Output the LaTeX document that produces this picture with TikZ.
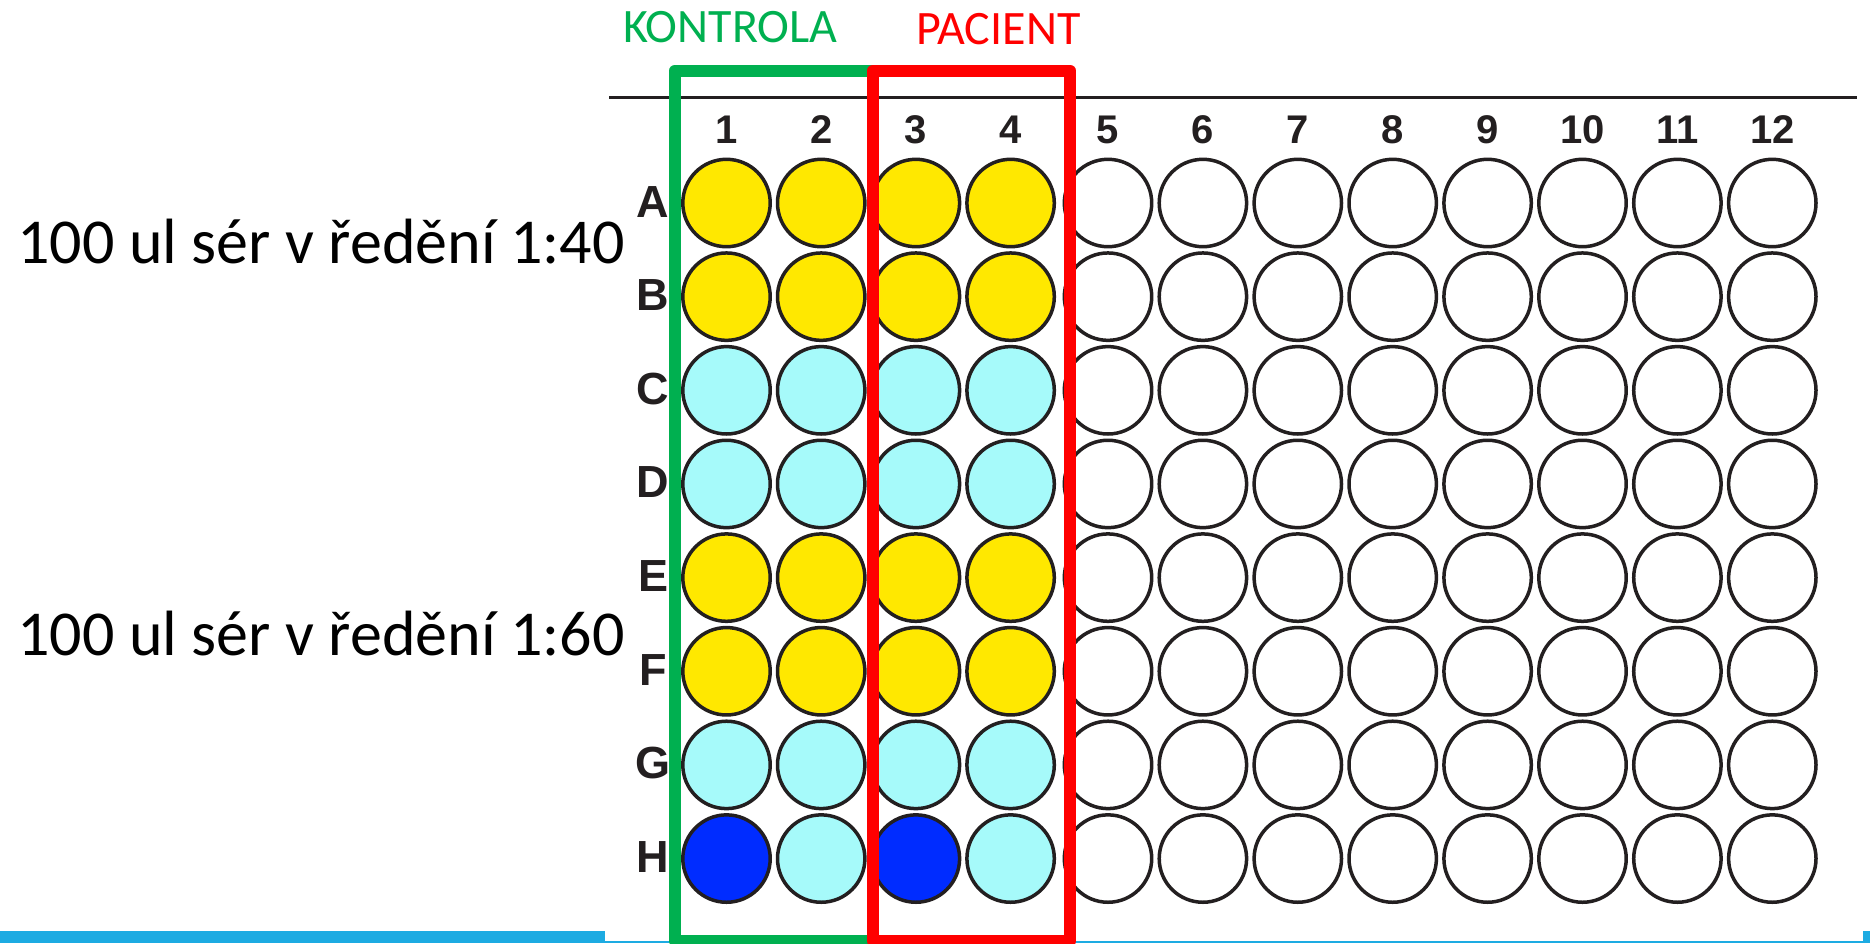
\documentclass[tikz,border=0pt]{standalone}
\usepackage{fontspec}
\setmainfont{Carlito}
\newfontfamily\platefont{Liberation Sans}
\definecolor{wy}{RGB}{255,232,0}
\definecolor{wc}{RGB}{166,250,250}
\definecolor{wb}{RGB}{0,44,255}
\definecolor{ink}{RGB}{35,31,32}
\definecolor{kgreen}{RGB}{0,176,80}
\definecolor{pred}{RGB}{255,0,0}
\definecolor{barblue}{RGB}{29,171,226}
\tikzset{
  well/.style={circle, draw=ink, line width=3.5pt, minimum size=87.4pt, inner sep=0pt},
  colnum/.style={font=\platefont\bfseries\fontsize{40}{40}\selectfont, text=ink, anchor=base, inner sep=0pt},
  rowlab/.style={font=\platefont\bfseries\fontsize{45}{45}\selectfont, text=ink, anchor=base, inner sep=0pt},
  dosetext/.style={font=\fontsize{64}{64}\selectfont, anchor=base west, inner sep=0pt},
  grouptext/.style={font=\fontsize{48}{48}\selectfont, anchor=base west, inner sep=0pt},
  groupbox/.style={line width=12pt, line join=round},
}
\begin{document}
\begin{tikzpicture}[x=1pt,y=-1pt]
\useasboundingbox (0,0) rectangle (1870,943);
\clip (0,0) rectangle (1870,943);
\fill[white] (0,0) rectangle (1870,943);
% bottom blue bar
\fill[barblue] (0,931) rectangle (605,943);
\fill[barblue] (0,941.3) rectangle (1870,943);
\fill[barblue] (1863,931) rectangle (1870,943);
% plate top line
\coordinate (lineL) at (609,97.7);
\coordinate (lineR) at (1857,97.7);
\draw[ink, line width=3.4pt] (lineL) -- (lineR);
% wells columns 5-12 (empty)
\foreach \r in {1,...,8}{
  \foreach \c in {5,...,12}{
    \pgfmathsetmacro\xx{1108+94.9*(\c-5)}
    \pgfmathsetmacro\yy{203+93.65*(\r-1)}
    \node[well, fill=white] (w\r-\c) at (\xx,\yy) {};
  }
}
% wells columns 1-4 (filled)
\foreach \r/\cA/\cB/\cC/\cD in {1/wy/wy/wy/wy,2/wy/wy/wy/wy,3/wc/wc/wc/wc,4/wc/wc/wc/wc,5/wy/wy/wy/wy,6/wy/wy/wy/wy,7/wc/wc/wc/wc,8/wb/wc/wb/wc}{
  \foreach \c/\col in {1/\cA,2/\cB,3/\cC,4/\cD}{
    \pgfmathsetmacro\xx{726.5+94.7*(\c-1)}
    \pgfmathsetmacro\yy{203+93.65*(\r-1)}
    \node[well, fill=\col] (w\r-\c) at (\xx,\yy) {};
  }
}
% column numbers
\foreach \c in {1,...,4}{
  \pgfmathsetmacro\xx{726.5+94.7*(\c-1)}
  \node[colnum] (n\c) at (\xx,143.3) {\c};
}
\foreach \c in {5,...,12}{
  \pgfmathsetmacro\xx{1108+94.9*(\c-5)}
  \node[colnum] (n\c) at (\xx,143.3) {\c};
}
% row letters
\foreach \r/\L in {1/A,2/B,3/C,4/D,5/E,6/F,7/G,8/H}{
  \pgfmathsetmacro\yy{203+93.65*(\r-1)+14}
  \node[rowlab] (row\L) at (653,\yy) {\L};
}
% group boxes
\draw[groupbox, kgreen] (675,941) rectangle (873,70.5);
\draw[groupbox, pred] (873,941) rectangle (1070,70.5);
% labels
\node[grouptext, text=kgreen] (kontrola) at (623,42) {KONTROLA};
\node[grouptext, text=pred] (pacient) at (916,44) {PACIENT};
\node[dosetext] (dose1) at (17,263.3) {100 ul sér v ředění 1:40};
\node[dosetext] (dose2) at (17,655) {100 ul sér v ředění 1:60};
\end{tikzpicture}
\end{document}
